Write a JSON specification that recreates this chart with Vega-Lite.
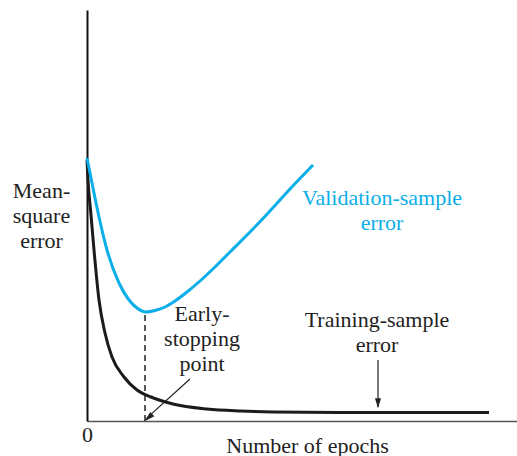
{
  "$schema": "https://vega.github.io/schema/vega-lite/v6.json",
  "width": 430,
  "height": 411,
  "autosize": {"type": "none"},
  "padding": {"left": 87, "top": 10, "right": 0, "bottom": 35},
  "background": "white",
  "config": {"view": {"stroke": null}, "font": "Liberation Serif", "text": {"font": "Liberation Serif"}},
  "datasets": {
    "curves": [
      {"epoch": 0, "mse": 65.25, "series": "Training"},
      {"epoch": 0.5, "mse": 60.25, "series": "Training"},
      {"epoch": 2, "mse": 51.5, "series": "Training"},
      {"epoch": 3.5, "mse": 42.75, "series": "Training"},
      {"epoch": 6, "mse": 30.25, "series": "Training"},
      {"epoch": 9, "mse": 22, "series": "Training"},
      {"epoch": 12.5, "mse": 16, "series": "Training"},
      {"epoch": 18.5, "mse": 11, "series": "Training"},
      {"epoch": 25, "mse": 7.75, "series": "Training"},
      {"epoch": 32, "mse": 6, "series": "Training"},
      {"epoch": 43, "mse": 4.25, "series": "Training"},
      {"epoch": 60, "mse": 3, "series": "Training"},
      {"epoch": 76.5, "mse": 2.5, "series": "Training"},
      {"epoch": 93, "mse": 2.25, "series": "Training"},
      {"epoch": 126.5, "mse": 2.1, "series": "Training"},
      {"epoch": 201, "mse": 2.1, "series": "Training"},
      {"epoch": 0, "mse": 65.75, "series": "Validation"},
      {"epoch": 2.5, "mse": 59.5, "series": "Validation"},
      {"epoch": 6, "mse": 51, "series": "Validation"},
      {"epoch": 10, "mse": 42.75, "series": "Validation"},
      {"epoch": 16, "mse": 34.5, "series": "Validation"},
      {"epoch": 21, "mse": 30.25, "series": "Validation"},
      {"epoch": 25, "mse": 28.25, "series": "Validation"},
      {"epoch": 29.5, "mse": 27.25, "series": "Validation"},
      {"epoch": 34, "mse": 27.625, "series": "Validation"},
      {"epoch": 39, "mse": 28.5, "series": "Validation"},
      {"epoch": 44, "mse": 30, "series": "Validation"},
      {"epoch": 50, "mse": 32.25, "series": "Validation"},
      {"epoch": 56.5, "mse": 35, "series": "Validation"},
      {"epoch": 64, "mse": 38.5, "series": "Validation"},
      {"epoch": 71.5, "mse": 42.25, "series": "Validation"},
      {"epoch": 81.5, "mse": 47.25, "series": "Validation"},
      {"epoch": 91.5, "mse": 52.5, "series": "Validation"},
      {"epoch": 101.5, "mse": 58, "series": "Validation"},
      {"epoch": 113, "mse": 64, "series": "Validation"}
    ]
  },
  "layer": [
    {
      "data": {"name": "curves"},
      "transform": [{"filter": "datum.series === 'Training'"}],
      "mark": {"type": "line", "interpolate": "monotone", "strokeWidth": 3, "color": "#1c1a1a"},
      "encoding": {
        "x": {
          "field": "epoch", "type": "quantitative",
          "scale": {"domain": [0, 215], "nice": false, "zero": false},
          "axis": {
            "values": [0], "ticks": false, "grid": false,
            "domainColor": "#555", "domainWidth": 1.5,
            "labelFont": "Liberation Serif", "labelFontSize": 22, "labelColor": "#222",
            "labelPadding": 3, "labelAlign": "center",
            "title": "Number of epochs",
            "titleFont": "Liberation Serif", "titleFontSize": 22, "titleFontWeight": "normal", "titleColor": "#222",
            "titleX": 220, "titleY": 31, "titleAlign": "center", "titleBaseline": "alphabetic"
          }
        },
        "y": {
          "field": "mse", "type": "quantitative",
          "scale": {"domain": [0, 102.75], "nice": false, "zero": false},
          "axis": {
            "values": [], "ticks": false, "labels": false, "grid": false,
            "domainColor": "#111", "domainWidth": 2,
            "title": ["Mean-", "square", "error"],
            "titleFont": "Liberation Serif", "titleFontSize": 22, "titleFontWeight": "normal", "titleColor": "#222",
            "titleAngle": 0, "titleAlign": "center", "titleBaseline": "alphabetic",
            "titleX": -46, "titleY": 187, "titleLineHeight": 25
          }
        },
        "order": {"field": "epoch", "type": "quantitative"}
      }
    },
    {
      "data": {"name": "curves"},
      "transform": [{"filter": "datum.series === 'Validation'"}],
      "mark": {"type": "line", "interpolate": "monotone", "strokeWidth": 3, "color": "#0aaee8"},
      "encoding": {
        "x": {"field": "epoch", "type": "quantitative"},
        "y": {"field": "mse", "type": "quantitative"},
        "order": {"field": "epoch", "type": "quantitative"}
      }
    },
    {
      "data": {"values": [{"epoch": 29, "mse": 0, "mse2": 27.25}]},
      "mark": {"type": "rule", "strokeDash": [6, 4], "strokeWidth": 1.5, "color": "#222"},
      "encoding": {
        "x": {"field": "epoch", "type": "quantitative"},
        "y": {"field": "mse", "type": "quantitative"},
        "y2": {"field": "mse2"}
      }
    },
    {
      "data": {"values": [{"epoch": 51.5, "mse": 10.5, "epoch2": 29.6, "mse2": 0.6}, {"epoch": 145.5, "mse": 15.25, "epoch2": 145.5, "mse2": 3.5}]},
      "mark": {"type": "rule", "strokeWidth": 1.2, "color": "#222"},
      "encoding": {
        "x": {"field": "epoch", "type": "quantitative"},
        "y": {"field": "mse", "type": "quantitative"},
        "x2": {"field": "epoch2"},
        "y2": {"field": "mse2"}
      }
    },
    {
      "data": {"values": [{"epoch": 29, "mse": 0}]},
      "mark": {"type": "point", "shape": "M0,0L-0.6,2L0.6,2Z", "size": 100, "filled": true, "opacity": 1, "color": "#222", "angle": 227},
      "encoding": {
        "x": {"field": "epoch", "type": "quantitative"},
        "y": {"field": "mse", "type": "quantitative"}
      }
    },
    {
      "data": {"values": [{"epoch": 145.5, "mse": 3.2}]},
      "mark": {"type": "point", "shape": "M0,0L-0.6,2L0.6,2Z", "size": 100, "filled": true, "opacity": 1, "color": "#222", "angle": 180},
      "encoding": {
        "x": {"field": "epoch", "type": "quantitative"},
        "y": {"field": "mse", "type": "quantitative"}
      }
    },
    {
      "data": {"values": [
        {"epoch": 57.5, "mse": 25, "label": "Early-\nstopping\npoint"},
        {"epoch": 145, "mse": 23.5, "label": "Training-sample\nerror"}
      ]},
      "mark": {"type": "text", "font": "Liberation Serif", "fontSize": 22, "lineHeight": 25, "lineBreak": "\n", "align": "center", "baseline": "alphabetic", "color": "#222"},
      "encoding": {
        "x": {"field": "epoch", "type": "quantitative"},
        "y": {"field": "mse", "type": "quantitative"},
        "text": {"field": "label"}
      }
    },
    {
      "data": {"values": [
        {"epoch": 147.5, "mse": 54, "label": "Validation-sample\nerror"}
      ]},
      "mark": {"type": "text", "font": "Liberation Serif", "fontSize": 22, "lineHeight": 25, "lineBreak": "\n", "align": "center", "baseline": "alphabetic", "color": "#0aaee8"},
      "encoding": {
        "x": {"field": "epoch", "type": "quantitative"},
        "y": {"field": "mse", "type": "quantitative"},
        "text": {"field": "label"}
      }
    }
  ]
}
